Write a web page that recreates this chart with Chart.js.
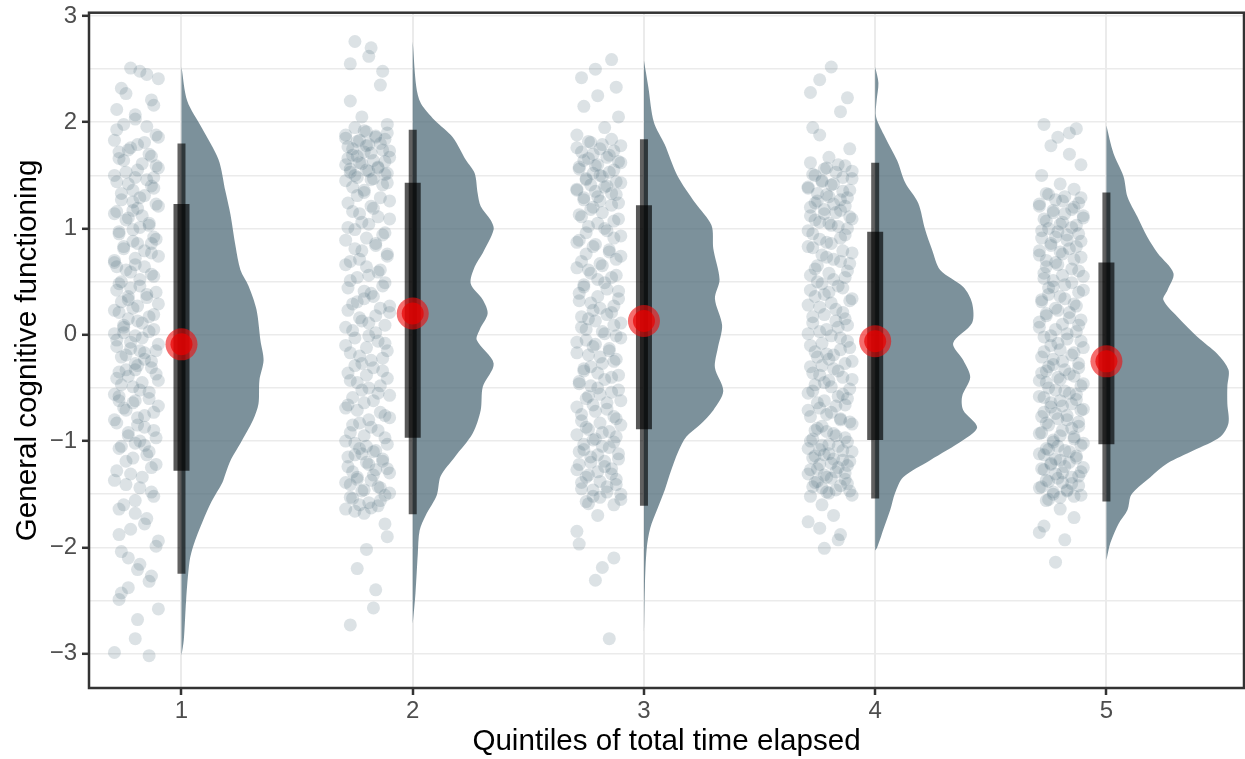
<!DOCTYPE html>
<html>
<head>
<meta charset="utf-8">
<script src="https://cdn.jsdelivr.net/npm/chart.js@4.4.1/dist/chart.umd.min.js"></script>
<style>
  html, body { margin: 0; padding: 0; background: #fff; }
</style>
</head>
<body>
<canvas id="cogChart" width="1245" height="759"></canvas>
<script>
/* Quintiles and y axis ticks (half steps only get a grid line) */
const quintiles = [1, 2, 3, 4, 5]
const yTicks = [-3, -2.5, -2, -1.5, -1, -0.5, 0, 0.5, 1, 1.5, 2, 2.5, 3]
const xTitle = 'Quintiles of total time elapsed'
const yTitle = 'General cognitive functioning'

/* Summary per quintile: median, interquartile range, interval */
const medians = [-0.09, 0.2, 0.13, -0.06, -0.25]
const q1s = [-1.28, -0.97, -0.89, -0.99, -1.03]
const q3s = [1.23, 1.43, 1.22, 0.97, 0.68]
const lows = [-2.25, -1.69, -1.61, -1.54, -1.57]
const highs = [1.8, 1.93, 1.84, 1.62, 1.34]

/* Half violins: y value and density width (in x units) */
const violinY1 = [2.52, 2.2, 1.94, 1.65, 1.35, 1.13, 0.83, 0.61, 0.46, 0.24, -0.06, -0.24, -0.43, -0.65, -0.8, -1.02, -1.17, -1.31, -1.39, -1.57, -1.76, -1.98, -2.13, -2.5, -2.87, -3.02]
const violinW1 = [0, 0.025, 0.09, 0.16, 0.19, 0.212, 0.234, 0.255, 0.29, 0.324, 0.342, 0.355, 0.337, 0.333, 0.31, 0.255, 0.215, 0.19, 0.177, 0.13, 0.091, 0.052, 0.035, 0.02, 0.01, 0]
const violinY2 = [2.76, 2.34, 2.18, 2.02, 1.86, 1.645, 1.52, 1.33, 1.21, 1.08, 0.99, 0.77, 0.64, 0.48, 0.33, 0.2, 0.05, -0.05, -0.27, -0.49, -0.71, -0.93, -1.15, -1.33, -1.51, -1.7, -1.84, -2.06, -2.43, -2.72]
const violinW2 = [0, 0.015, 0.035, 0.095, 0.173, 0.23, 0.268, 0.281, 0.294, 0.337, 0.35, 0.303, 0.268, 0.251, 0.303, 0.324, 0.29, 0.277, 0.35, 0.303, 0.294, 0.259, 0.182, 0.121, 0.104, 0.056, 0.03, 0.022, 0.012, 0]
const violinY3 = [2.58, 2.33, 2.0, 1.79, 1.5, 1.24, 1.03, 0.81, 0.52, 0.34, 0.09, -0.13, -0.31, -0.53, -0.71, -0.85, -0.96, -1.1, -1.28, -1.46, -1.64, -1.82, -2.01, -2.37, -2.84]
const violinW3 = [0, 0.019, 0.043, 0.09, 0.144, 0.222, 0.292, 0.3, 0.327, 0.307, 0.338, 0.319, 0.307, 0.343, 0.3, 0.241, 0.183, 0.148, 0.117, 0.09, 0.058, 0.027, 0.012, 0.004, 0]
const violinY4 = [2.52, 2.37, 2.2, 2.05, 1.86, 1.64, 1.43, 1.24, 0.99, 0.8, 0.61, 0.45, 0.3, 0.11, -0.08, -0.24, -0.4, -0.58, -0.71, -0.87, -0.99, -1.18, -1.34, -1.49, -1.65, -1.81, -2.0, -2.03]
const violinW4 = [0, 0.014, 0.006, 0.004, 0.043, 0.095, 0.13, 0.186, 0.216, 0.246, 0.281, 0.381, 0.419, 0.419, 0.337, 0.381, 0.411, 0.376, 0.381, 0.441, 0.381, 0.238, 0.121, 0.086, 0.065, 0.039, 0.009, 0]
const violinY5 = [1.97, 1.71, 1.49, 1.3, 1.11, 0.92, 0.77, 0.58, 0.42, 0.33, 0.17, -0.02, -0.18, -0.33, -0.49, -0.65, -0.83, -0.96, -1.09, -1.21, -1.34, -1.46, -1.52, -1.65, -1.78, -1.96, -2.12]
const violinW5 = [0, 0.03, 0.074, 0.091, 0.134, 0.177, 0.221, 0.29, 0.264, 0.246, 0.307, 0.394, 0.48, 0.528, 0.523, 0.523, 0.528, 0.493, 0.376, 0.264, 0.19, 0.125, 0.104, 0.091, 0.052, 0.017, 0]

/* Raw scores per quintile, with their horizontal jitter (x units, left of the quintile) */
const scores1 = [
  2.51, 2.48, 2.41, 2.32, 2.21, 2.12, 2.03, 1.98, 1.96, 1.88,
  1.83, 1.79, 1.74, 1.7, 1.66, 1.61, 1.57, 1.53, 1.48, 1.44,
  1.4, 1.36, 1.31, 1.27, 1.23, 1.19, 1.14, 1.1, 1.05, 1.01,
  0.97, 0.92, 0.88, 0.83, 0.79, 0.74, 0.7, 0.66, 0.61, 0.57,
  0.52, 0.48, 0.44, 0.4, 0.35, 0.31, 0.27, 0.23, 0.19, 0.15,
  0.11, 0.07, 0.03, -0.01, -0.05, -0.09, -0.13, -0.17, -0.21, -0.25,
  -0.29, -0.33, -0.37, -0.41, -0.45, -0.49, -0.54, -0.58, -0.62, -0.67,
  -0.71, -0.76, -0.8, -0.85, -0.9, -0.95, -1.0, -1.05, -1.1, -1.16,
  -1.22, -1.28, -1.34, -1.41, -1.48, -1.56, -1.64, -1.73, -1.83, -1.94,
  -2.04, -2.16, -2.27, -2.38, -2.49, -2.58, -2.68, -2.86, -2.99, -3.02,
  2.45, 2.27, 2.16, 2.07, 1.93, 1.86, 1.81, 1.76, 1.72, 1.68,
  1.64, 1.59, 1.55, 1.5, 1.46, 1.42, 1.38, 1.33, 1.29, 1.25,
  1.21, 1.16, 1.12, 1.08, 1.03, 0.99, 0.95, 0.9, 0.86, 0.81,
  0.77, 0.72, 0.68, 0.64, 0.59, 0.55, 0.5, 0.46, 0.42, 0.38,
  0.33, 0.29, 0.25, 0.21, 0.17, 0.13, 0.09, 0.05, 0.01, -0.03,
  -0.07, -0.11, -0.15, -0.19, -0.23, -0.27, -0.31, -0.35, -0.39, -0.43,
  -0.47, -0.52, -0.56, -0.6, -0.64, -0.69, -0.73, -0.78, -0.83, -0.87,
  -0.92, -0.97, -1.02, -1.07, -1.13, -1.19, -1.25, -1.31, -1.37, -1.44,
  -1.52, -1.6, -1.68, -1.78, -1.88, -1.99, -2.1, -2.21, -2.32, -2.43,
  -0.15, 0.36, 0.86, -0.62, 1.17, -1.04, 0.02, 1.48, -0.33, 0.64]
const jitter1 = [
  -.22, -.18, -.10, -.26, -.13, -.28, -.2, -.25, -.15, -.11,
  -.29, -.19, -.23, -.14, -.27, -.17, -.1, -.24, -.2, -.28,
  -.13, -.21, -.16, -.26, -.11, -.19, -.29, -.23, -.14, -.18,
  -.27, -.12, -.21, -.25, -.16, -.1, -.29, -.2, -.24, -.13,
  -.18, -.27, -.22, -.11, -.15, -.26, -.19, -.29, -.12, -.23,
  -.17, -.25, -.14, -.2, -.28, -.1, -.22, -.16, -.26, -.13,
  -.19, -.24, -.11, -.28, -.17, -.21, -.14, -.27, -.2, -.1,
  -.24, -.16, -.29, -.19, -.12, -.23, -.18, -.26, -.14, -.21,
  -.11, -.28, -.17, -.24, -.13, -.2, -.27, -.15, -.22, -.1,
  -.26, -.18, -.13, -.23, -.27, -.1, -.19, -.2, -.29, -.14,
  -.15, -.24, -.12, -.2, -.28, -.1, -.16, -.22, -.27, -.13,
  -.25, -.11, -.19, -.29, -.15, -.23, -.12, -.26, -.18, -.21,
  -.1, -.28, -.17, -.24, -.14, -.21, -.27, -.11, -.19, -.25,
  -.13, -.2, -.29, -.16, -.22, -.12, -.26, -.18, -.28, -.15,
  -.23, -.1, -.21, -.27, -.14, -.19, -.25, -.12, -.29, -.17,
  -.22, -.28, -.11, -.24, -.16, -.2, -.13, -.27, -.23, -.1,
  -.26, -.18, -.29, -.14, -.21, -.25, -.12, -.19, -.28, -.16,
  -.23, -.11, -.2, -.27, -.15, -.24, -.13, -.22, -.29, -.18,
  -.12, -.25, -.2, -.16, -.27, -.11, -.23, -.19, -.14, -.26,
  -.18, -.23, -.13, -.27, -.21, -.16, -.25, -.12, -.2, -.28]
const scores2 = [
  2.76, 2.62, 2.48, 2.2, 1.92, 1.9, 1.87, 1.85, 1.83, 1.8,
  1.78, 1.75, 1.73, 1.71, 1.68, 1.66, 1.63, 1.61, 1.58, 1.56,
  1.54, 1.52, 1.5, 1.47, 1.45, 1.41, 1.36, 1.31, 1.26, 1.21,
  1.16, 1.11, 1.06, 1.01, 0.96, 0.91, 0.86, 0.81, 0.76, 0.71,
  0.66, 0.61, 0.56, 0.51, 0.46, 0.41, 0.36, 0.31, 0.27, 0.23,
  0.18, 0.13, 0.09, 0.04, -0.01, -0.06, -0.1, -0.15, -0.2, -0.24,
  -0.29, -0.34, -0.38, -0.43, -0.48, -0.52, -0.57, -0.62, -0.66, -0.71,
  -0.76, -0.8, -0.85, -0.9, -0.95, -1.0, -1.03, -1.07, -1.1, -1.13,
  -1.17, -1.2, -1.24, -1.27, -1.3, -1.34, -1.37, -1.41, -1.44, -1.47,
  -1.51, -1.54, -1.58, -1.61, -1.64, -1.68, -1.9, -2.2, -2.57, -2.73,
  2.7, 2.55, 2.35, 2.05, 1.98, 1.95, 1.91, 1.88, 1.86, 1.84,
  1.82, 1.79, 1.77, 1.74, 1.72, 1.69, 1.67, 1.64, 1.62, 1.6,
  1.57, 1.55, 1.53, 1.51, 1.48, 1.46, 1.43, 1.39, 1.34, 1.29,
  1.24, 1.19, 1.14, 1.09, 1.04, 0.99, 0.94, 0.89, 0.84, 0.79,
  0.74, 0.69, 0.64, 0.59, 0.54, 0.49, 0.44, 0.39, 0.34, 0.29,
  0.25, 0.21, 0.16, 0.11, 0.07, 0.02, -0.03, -0.08, -0.12, -0.17,
  -0.22, -0.27, -0.31, -0.36, -0.41, -0.45, -0.5, -0.55, -0.59, -0.64,
  -0.69, -0.73, -0.78, -0.83, -0.87, -0.92, -0.97, -1.02, -1.05, -1.09,
  -1.12, -1.15, -1.19, -1.22, -1.26, -1.29, -1.32, -1.36, -1.39, -1.43,
  -1.46, -1.49, -1.53, -1.56, -1.6, -1.63, -1.66, -1.78, -2.02, -2.4]
const jitter2 = [
  -.25, -.19, -.13, -.27, -.21, -.11, -.16, -.29, -.23, -.14,
  -.2, -.26, -.1, -.18, -.24, -.28, -.12, -.22, -.15, -.27,
  -.19, -.11, -.25, -.17, -.29, -.13, -.21, -.24, -.1, -.18,
  -.26, -.15, -.22, -.28, -.12, -.2, -.16, -.25, -.11, -.23,
  -.29, -.14, -.19, -.27, -.13, -.21, -.17, -.24, -.1, -.28,
  -.16, -.22, -.12, -.26, -.19, -.15, -.29, -.11, -.23, -.18,
  -.25, -.13, -.2, -.27, -.14, -.22, -.1, -.17, -.28, -.24,
  -.12, -.19, -.26, -.15, -.21, -.29, -.11, -.23, -.17, -.25,
  -.13, -.2, -.28, -.16, -.1, -.24, -.18, -.27, -.14, -.22,
  -.12, -.26, -.19, -.15, -.29, -.21, -.11, -.24, -.17, -.27,
  -.18, -.27, -.14, -.22, -.11, -.25, -.2, -.29, -.16, -.12,
  -.24, -.19, -.28, -.13, -.21, -.26, -.1, -.17, -.23, -.29,
  -.15, -.2, -.27, -.12, -.24, -.18, -.11, -.26, -.21, -.14,
  -.28, -.17, -.23, -.1, -.19, -.25, -.13, -.29, -.16, -.22,
  -.11, -.27, -.2, -.15, -.24, -.12, -.28, -.18, -.21, -.26,
  -.14, -.1, -.23, -.19, -.29, -.16, -.25, -.12, -.2, -.27,
  -.13, -.22, -.17, -.28, -.11, -.24, -.19, -.15, -.26, -.21,
  -.29, -.14, -.1, -.23, -.18, -.27, -.12, -.25, -.2, -.16,
  -.22, -.28, -.13, -.19, -.11, -.26, -.17, -.24, -.29, -.15,
  -.21, -.1, -.27, -.14, -.23, -.18, -.25, -.12, -.2, -.16]
const scores3 = [
  2.59, 2.42, 2.25, 2.05, 1.82, 1.79, 1.76, 1.73, 1.7, 1.67,
  1.64, 1.62, 1.59, 1.56, 1.53, 1.5, 1.47, 1.44, 1.41, 1.39,
  1.36, 1.33, 1.3, 1.27, 1.24, 1.2, 1.15, 1.11, 1.07, 1.02,
  0.98, 0.93, 0.89, 0.85, 0.8, 0.76, 0.71, 0.67, 0.63, 0.58,
  0.54, 0.49, 0.45, 0.41, 0.36, 0.32, 0.27, 0.23, 0.19, 0.15,
  0.11, 0.07, 0.03, -0.01, -0.05, -0.09, -0.13, -0.17, -0.21, -0.25,
  -0.3, -0.34, -0.38, -0.42, -0.46, -0.5, -0.54, -0.58, -0.62, -0.66,
  -0.7, -0.75, -0.79, -0.83, -0.87, -0.91, -0.94, -0.98, -1.01, -1.05,
  -1.08, -1.12, -1.15, -1.19, -1.22, -1.26, -1.29, -1.32, -1.36, -1.39,
  -1.43, -1.46, -1.5, -1.53, -1.57, -1.6, -1.85, -2.19, -2.31, -2.86,
  2.5, 2.33, 2.15, 1.95, 1.88, 1.84, 1.81, 1.78, 1.75, 1.72,
  1.69, 1.66, 1.63, 1.6, 1.58, 1.55, 1.52, 1.49, 1.46, 1.43,
  1.4, 1.37, 1.35, 1.32, 1.29, 1.26, 1.22, 1.18, 1.13, 1.09,
  1.05, 1.0, 0.96, 0.91, 0.87, 0.83, 0.78, 0.74, 0.69, 0.65,
  0.61, 0.56, 0.52, 0.47, 0.43, 0.39, 0.34, 0.3, 0.25, 0.21,
  0.17, 0.13, 0.09, 0.05, 0.01, -0.03, -0.07, -0.11, -0.15, -0.19,
  -0.23, -0.27, -0.32, -0.36, -0.4, -0.44, -0.48, -0.52, -0.56, -0.6,
  -0.64, -0.68, -0.72, -0.77, -0.81, -0.85, -0.89, -0.92, -0.96, -0.99,
  -1.03, -1.06, -1.1, -1.13, -1.17, -1.2, -1.24, -1.27, -1.31, -1.34,
  -1.38, -1.41, -1.45, -1.48, -1.52, -1.55, -1.59, -1.7, -1.97, -2.1]
const jitter3 = [
  -.14, -.27, -.2, -.11, -.24, -.18, -.29, -.13, -.22, -.16,
  -.26, -.1, -.21, -.28, -.15, -.19, -.25, -.12, -.23, -.17,
  -.29, -.14, -.2, -.26, -.11, -.22, -.18, -.27, -.13, -.24,
  -.16, -.1, -.28, -.21, -.15, -.25, -.12, -.19, -.29, -.23,
  -.14, -.17, -.26, -.11, -.2, -.28, -.13, -.22, -.16, -.24,
  -.1, -.27, -.18, -.12, -.25, -.21, -.15, -.29, -.19, -.13,
  -.23, -.26, -.11, -.17, -.28, -.2, -.14, -.24, -.1, -.22,
  -.16, -.27, -.12, -.19, -.25, -.15, -.29, -.21, -.13, -.18,
  -.26, -.11, -.23, -.17, -.28, -.14, -.2, -.24, -.12, -.27,
  -.16, -.22, -.1, -.19, -.25, -.13, -.29, -.18, -.21, -.15,
  -.21, -.12, -.26, -.17, -.29, -.14, -.23, -.1, -.19, -.27,
  -.15, -.24, -.11, -.2, -.28, -.13, -.22, -.18, -.25, -.1,
  -.16, -.29, -.21, -.12, -.26, -.19, -.14, -.23, -.28, -.11,
  -.2, -.17, -.25, -.13, -.29, -.22, -.15, -.1, -.27, -.18,
  -.24, -.12, -.2, -.26, -.16, -.28, -.11, -.23, -.19, -.14,
  -.27, -.21, -.13, -.25, -.17, -.1, -.29, -.22, -.15, -.24,
  -.12, -.18, -.26, -.2, -.14, -.28, -.23, -.11, -.19, -.25,
  -.16, -.29, -.21, -.13, -.27, -.1, -.24, -.18, -.12, -.22,
  -.26, -.15, -.28, -.2, -.11, -.23, -.17, -.29, -.14, -.25,
  -.19, -.12, -.27, -.16, -.22, -.1, -.24, -.2, -.28, -.13]
const scores4 = [
  2.52, 2.28, 2.23, 1.88, 1.6, 1.57, 1.54, 1.51, 1.48, 1.45,
  1.42, 1.39, 1.36, 1.33, 1.3, 1.27, 1.24, 1.21, 1.18, 1.15,
  1.12, 1.09, 1.06, 1.03, 1.0, 0.95, 0.91, 0.87, 0.83, 0.79,
  0.75, 0.71, 0.67, 0.62, 0.58, 0.54, 0.5, 0.46, 0.42, 0.38,
  0.34, 0.3, 0.26, 0.21, 0.17, 0.13, 0.09, 0.05, 0.01, -0.03,
  -0.08, -0.12, -0.16, -0.19, -0.23, -0.27, -0.3, -0.34, -0.38, -0.42,
  -0.45, -0.49, -0.53, -0.56, -0.6, -0.64, -0.67, -0.71, -0.75, -0.79,
  -0.82, -0.86, -0.9, -0.93, -0.97, -1.0, -1.03, -1.05, -1.08, -1.1,
  -1.13, -1.16, -1.18, -1.21, -1.23, -1.26, -1.29, -1.31, -1.34, -1.36,
  -1.39, -1.42, -1.44, -1.47, -1.49, -1.52, -1.7, -1.82, -1.93, -2.01,
  2.4, 2.1, 1.95, 1.75, 1.67, 1.62, 1.59, 1.56, 1.53, 1.5,
  1.47, 1.44, 1.41, 1.38, 1.35, 1.32, 1.29, 1.26, 1.23, 1.2,
  1.17, 1.14, 1.11, 1.08, 1.05, 1.02, 0.98, 0.94, 0.9, 0.86,
  0.82, 0.77, 0.73, 0.69, 0.65, 0.6, 0.56, 0.52, 0.48, 0.44,
  0.4, 0.36, 0.32, 0.28, 0.24, 0.19, 0.15, 0.11, 0.07, 0.03,
  -0.01, -0.06, -0.1, -0.14, -0.18, -0.21, -0.25, -0.29, -0.32, -0.36,
  -0.4, -0.43, -0.47, -0.51, -0.55, -0.58, -0.62, -0.66, -0.69, -0.73,
  -0.77, -0.8, -0.84, -0.88, -0.91, -0.95, -0.98, -1.01, -1.04, -1.07,
  -1.09, -1.12, -1.14, -1.17, -1.19, -1.22, -1.25, -1.27, -1.3, -1.32,
  -1.35, -1.38, -1.4, -1.43, -1.46, -1.48, -1.51, -1.6, -1.76, -1.88]
const jitter4 = [
  -.19, -.28, -.12, -.24, -.16, -.21, -.1, -.27, -.14, -.23,
  -.18, -.29, -.11, -.25, -.2, -.15, -.26, -.13, -.22, -.17,
  -.28, -.1, -.24, -.19, -.12, -.27, -.15, -.21, -.29, -.14,
  -.23, -.18, -.11, -.26, -.2, -.13, -.25, -.16, -.28, -.22,
  -.1, -.19, -.24, -.14, -.27, -.17, -.12, -.21, -.29, -.15,
  -.23, -.11, -.26, -.18, -.2, -.13, -.28, -.16, -.24, -.1,
  -.22, -.19, -.27, -.14, -.12, -.25, -.17, -.29, -.21, -.15,
  -.11, -.23, -.26, -.18, -.13, -.28, -.2, -.16, -.24, -.1,
  -.22, -.27, -.14, -.19, -.12, -.25, -.17, -.29, -.21, -.13,
  -.26, -.15, -.23, -.11, -.2, -.28, -.18, -.24, -.16, -.22,
  -.24, -.15, -.27, -.11, -.2, -.28, -.13, -.22, -.17, -.26,
  -.1, -.23, -.19, -.29, -.14, -.21, -.12, -.25, -.18, -.28,
  -.15, -.22, -.11, -.26, -.2, -.16, -.29, -.13, -.24, -.19,
  -.27, -.1, -.21, -.15, -.25, -.12, -.28, -.18, -.23, -.14,
  -.2, -.26, -.11, -.29, -.17, -.22, -.13, -.27, -.16, -.24,
  -.19, -.12, -.28, -.15, -.21, -.25, -.1, -.23, -.18, -.27,
  -.14, -.2, -.26, -.11, -.29, -.16, -.22, -.13, -.24, -.19,
  -.28, -.15, -.1, -.25, -.21, -.17, -.27, -.12, -.23, -.29,
  -.14, -.2, -.26, -.18, -.11, -.24, -.16, -.28, -.13, -.22,
  -.19, -.25, -.12, -.27, -.17, -.21, -.1, -.23, -.29, -.15]
const scores5 = [
  1.98, 1.94, 1.86, 1.7, 1.32, 1.29, 1.26, 1.23, 1.2, 1.17,
  1.14, 1.1, 1.07, 1.04, 1.01, 0.98, 0.95, 0.92, 0.89, 0.86,
  0.83, 0.79, 0.76, 0.73, 0.7, 0.66, 0.62, 0.58, 0.55, 0.51,
  0.47, 0.44, 0.4, 0.36, 0.33, 0.29, 0.25, 0.21, 0.18, 0.14,
  0.1, 0.07, 0.03, -0.01, -0.04, -0.08, -0.12, -0.16, -0.19, -0.23,
  -0.27, -0.3, -0.33, -0.36, -0.39, -0.42, -0.45, -0.48, -0.52, -0.55,
  -0.58, -0.61, -0.64, -0.67, -0.7, -0.73, -0.76, -0.79, -0.82, -0.85,
  -0.88, -0.92, -0.95, -0.98, -1.01, -1.04, -1.07, -1.09, -1.12, -1.14,
  -1.17, -1.2, -1.22, -1.25, -1.27, -1.3, -1.33, -1.35, -1.38, -1.4,
  -1.43, -1.46, -1.48, -1.51, -1.53, -1.56, -1.72, -1.86, -1.93, -2.14,
  1.9, 1.78, 1.6, 1.5, 1.42, 1.37, 1.33, 1.3, 1.27, 1.24,
  1.21, 1.18, 1.15, 1.12, 1.09, 1.06, 1.03, 1.0, 0.97, 0.94,
  0.91, 0.88, 0.84, 0.81, 0.78, 0.75, 0.71, 0.68, 0.64, 0.6,
  0.56, 0.53, 0.49, 0.45, 0.42, 0.38, 0.34, 0.31, 0.27, 0.23,
  0.2, 0.16, 0.12, 0.09, 0.05, 0.01, -0.02, -0.06, -0.1, -0.14,
  -0.17, -0.21, -0.25, -0.28, -0.31, -0.34, -0.37, -0.4, -0.43, -0.46,
  -0.5, -0.53, -0.56, -0.59, -0.62, -0.65, -0.68, -0.71, -0.74, -0.77,
  -0.8, -0.83, -0.86, -0.9, -0.93, -0.96, -0.99, -1.02, -1.05, -1.08,
  -1.1, -1.13, -1.16, -1.18, -1.21, -1.24, -1.26, -1.29, -1.31, -1.34,
  -1.37, -1.39, -1.42, -1.44, -1.47, -1.5, -1.52, -1.55, -1.64, -1.8]
const jitter5 = [
  -.27, -.13, -.21, -.16, -.25, -.11, -.19, -.29, -.14, -.23,
  -.18, -.1, -.26, -.2, -.15, -.28, -.12, -.22, -.17, -.24,
  -.13, -.29, -.19, -.11, -.26, -.21, -.15, -.27, -.1, -.23,
  -.18, -.25, -.12, -.2, -.28, -.14, -.22, -.16, -.26, -.11,
  -.19, -.29, -.13, -.24, -.17, -.21, -.1, -.27, -.15, -.23,
  -.12, -.25, -.18, -.28, -.14, -.2, -.26, -.11, -.22, -.16,
  -.29, -.13, -.24, -.19, -.1, -.27, -.17, -.21, -.12, -.25,
  -.15, -.28, -.2, -.14, -.23, -.11, -.26, -.18, -.29, -.13,
  -.22, -.16, -.24, -.1, -.27, -.19, -.12, -.21, -.25, -.15,
  -.28, -.17, -.23, -.11, -.2, -.26, -.14, -.29, -.18, -.22,
  -.16, -.24, -.11, -.28, -.2, -.14, -.26, -.18, -.22, -.12,
  -.29, -.15, -.23, -.1, -.27, -.19, -.13, -.25, -.21, -.17,
  -.28, -.11, -.24, -.16, -.2, -.29, -.14, -.22, -.26, -.12,
  -.19, -.27, -.15, -.23, -.1, -.25, -.18, -.28, -.13, -.21,
  -.26, -.16, -.29, -.12, -.22, -.17, -.27, -.11, -.24, -.2,
  -.14, -.28, -.19, -.23, -.12, -.26, -.16, -.21, -.29, -.1,
  -.25, -.18, -.13, -.27, -.2, -.15, -.24, -.11, -.22, -.28,
  -.17, -.26, -.12, -.19, -.29, -.14, -.23, -.1, -.21, -.25,
  -.16, -.27, -.13, -.2, -.24, -.18, -.28, -.11, -.22, -.15,
  -.26, -.19, -.12, -.29, -.17, -.23, -.14, -.25, -.2, -.27]

const violinYs = [violinY1, violinY2, violinY3, violinY4, violinY5]
const violinWs = [violinW1, violinW2, violinW3, violinW4, violinW5]
const scores = [scores1, scores2, scores3, scores4, scores5]
const jitters = [jitter1, jitter2, jitter3, jitter4, jitter5]

Chart.defaults.font.family = '"Liberation Sans", Arial, sans-serif'
Chart.defaults.color = '#4d4d4d'

const minusSign = v => (v < 0 ? '\u2212' + Math.abs(v) : String(v))

/* Box around the panel, like theme_bw */
const panelBorder = {
    id: 'panelBorder',
    afterDraw(chart) {
        const {ctx, chartArea: a} = chart
        ctx.save()
        ctx.strokeStyle = '#333333'
        ctx.lineWidth = 2.5
        ctx.strokeRect(a.left, a.top, a.right - a.left, a.bottom - a.top)
        ctx.restore()
    }
}

const buildDatasets = () => {
    const sets = []

    quintiles.forEach((q, i) => {
        // jittered raw points
        sets.push({
            type: 'scatter',
            order: 6,
            data: scores[i].map((y, k) => ({x: q + jitters[i][k], y})),
            pointRadius: 6.5,
            pointBackgroundColor: 'rgba(70,100,115,0.19)',
            pointBorderWidth: 0,
            borderWidth: 0
        })

        // half violin, closed back along the quintile line
        sets.push({
            type: 'line',
            order: 5,
            data: violinYs[i].map((y, k) => ({x: q + violinWs[i][k], y})),
            fill: 'shape',
            backgroundColor: 'rgba(80,108,122,0.75)',
            borderWidth: 0,
            pointRadius: 0,
            tension: 0.3
        })

        // interval (thin) and interquartile range (thick)
        sets.push({
            type: 'line',
            order: 4,
            data: [{x: q, y: lows[i]}, {x: q, y: highs[i]}],
            borderColor: 'rgba(0,0,0,0.62)',
            borderWidth: 8,
            borderCapStyle: 'butt',
            pointRadius: 0,
            fill: false
        })
        sets.push({
            type: 'line',
            order: 3,
            data: [{x: q, y: q1s[i]}, {x: q, y: q3s[i]}],
            borderColor: 'rgba(0,0,0,0.66)',
            borderWidth: 16,
            borderCapStyle: 'butt',
            pointRadius: 0,
            fill: false
        })
    })

    // medians
    const medPoints = quintiles.map((q, i) => ({x: q, y: medians[i]}))
    sets.push({
        type: 'scatter',
        order: 1,
        data: medPoints,
        pointRadius: 16,
        pointBackgroundColor: 'rgba(238,12,12,0.6)',
        pointBorderWidth: 0
    })
    sets.push({
        type: 'scatter',
        order: 0,
        data: medPoints,
        pointRadius: 11,
        pointBackgroundColor: 'rgba(232,0,0,0.7)',
        pointBorderWidth: 0
    })
    return sets
}

const renderCogChart = () => {
    const options = {
        responsive: false,
        animation: false,
        devicePixelRatio: 1,
        layout: {autoPadding: false, padding: {top: 12.7, right: 1, left: 0, bottom: 0}},
        plugins: {
            legend: {display: false},
            tooltip: {enabled: false}
        },
        scales: {
            x: {
                type: 'linear',
                min: 0.6,
                max: 5.595,
                afterBuildTicks: s => { s.ticks = quintiles.map(v => ({value: v})) },
                afterFit: s => {
                    s.height = 71
                    s.paddingLeft = 0
                    s.paddingRight = 0
                },
                border: {display: false},
                grid: {color: '#ebebeb', lineWidth: 2, tickLength: 7, tickWidth: 2.5, tickColor: '#333333'},
                ticks: {autoSkip: false, maxRotation: 0, padding: 2, font: {size: 24}, callback: v => String(v)},
                title: {display: true, text: xTitle, color: '#000', font: {size: 29.6}, padding: {top: 0, bottom: -1}}
            },
            y: {
                type: 'linear',
                min: -3.324,
                max: 3.031,
                afterBuildTicks: s => { s.ticks = yTicks.map(v => ({value: v})) },
                afterFit: s => {
                    s.width = 89
                    s.paddingTop = 0
                    s.paddingBottom = 0
                },
                border: {display: false},
                grid: {
                    color: '#ebebeb',
                    lineWidth: 1.6,
                    tickLength: 7,
                    tickWidth: 2.5,
                    tickColor: c => (Number.isInteger(c.tick.value) ? '#333333' : 'rgba(0,0,0,0)')
                },
                ticks: {
                    autoSkip: false,
                    padding: 5,
                    font: {size: 24, lineHeight: 1},
                    callback: v => (Number.isInteger(v) ? minusSign(v) : '')
                },
                title: {display: true, text: yTitle, color: '#000', font: {size: 29.6}, padding: {top: 10, bottom: 0}}
            }
        }
    }

    new Chart('cogChart', {type: 'scatter', data: {datasets: buildDatasets()}, options, plugins: [panelBorder]})
}

renderCogChart()
</script>
</body>
</html>
